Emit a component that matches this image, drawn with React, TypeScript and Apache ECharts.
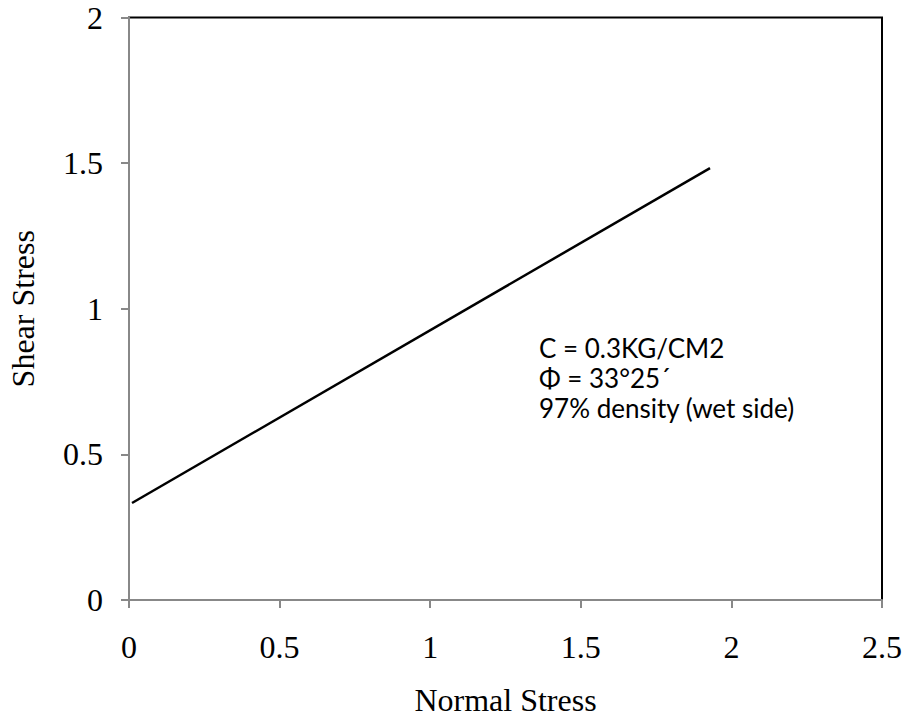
import React, { useEffect, useRef } from "react";
import * as echarts from "echarts";

const xTicks = [0, 0.5, 1, 1.5, 2, 2.5];
const yTicks = [0, 0.5, 1, 1.5, 2];
const normalStress = [0.01, 1.929];
const shearStress = [0.333, 1.483];
const annotation = ["C = 0.3KG/CM2", "Φ = 33°25´", "97% density (wet side)"];

export default function App() {
  const ref = useRef<HTMLDivElement>(null);
  useEffect(() => {
    if (!ref.current) return;
    const chart = echarts.init(ref.current, null, { renderer: "svg" });
    const serif = "'Liberation Serif', 'Times New Roman', serif";
    chart.setOption({
      animation: false,
      backgroundColor: "#fff",
      grid: {
        left: 129,
        top: 17.5,
        right: 24,
        bottom: 124,
        containLabel: false,
        outerBoundsMode: "none",
        show: true,
        borderColor: "#000",
        borderWidth: 2,
        backgroundColor: "transparent",
      },
      xAxis: {
        type: "value",
        min: xTicks[0],
        max: xTicks[xTicks.length - 1],
        interval: 0.5,
        name: "Normal Stress",
        nameLocation: "middle",
        nameGap: 84,
        nameTextStyle: { fontFamily: serif, fontSize: 32, color: "#000" },
        axisLine: { show: true, lineStyle: { color: "#888", width: 2 } },
        axisTick: { show: true, length: 8, lineStyle: { color: "#888", width: 2 } },
        axisLabel: {
          fontFamily: serif,
          fontSize: 32,
          color: "#000",
          margin: 31,
          formatter: (v: number) => String(v),
        },
        splitLine: { show: false },
      },
      yAxis: {
        type: "value",
        min: yTicks[0],
        max: yTicks[yTicks.length - 1],
        interval: 0.5,
        name: "Shear Stress",
        nameLocation: "middle",
        nameGap: 90,
        nameTextStyle: { fontFamily: serif, fontSize: 32, color: "#000" },
        axisLine: { show: true, lineStyle: { color: "#888", width: 2 } },
        axisTick: { show: true, length: 8, lineStyle: { color: "#888", width: 2 } },
        axisLabel: {
          fontFamily: serif,
          fontSize: 32,
          color: "#000",
          margin: 26,
          formatter: (v: number) => String(v),
        },
        splitLine: { show: false },
      },
      series: [
        {
          type: "line",
          data: normalStress.map((x, i) => [x, shearStress[i]]),
          showSymbol: false,
          lineStyle: { color: "#000", width: 2.5 },
        },
      ],
      graphic: annotation.map((t, i) => ({
        type: "text",
        left: 539,
        top: 334.5 + i * 30,
        style: {
          text: t,
          font: "26px Lato, 'Open Sans', sans-serif",
          fill: "#000",
        },
      })),
    });
    return () => chart.dispose();
  }, []);
  return (
    <div
      ref={ref}
      style={{ position: "absolute", left: 0, top: 0, width: 906, height: 724 }}
    />
  );
}
